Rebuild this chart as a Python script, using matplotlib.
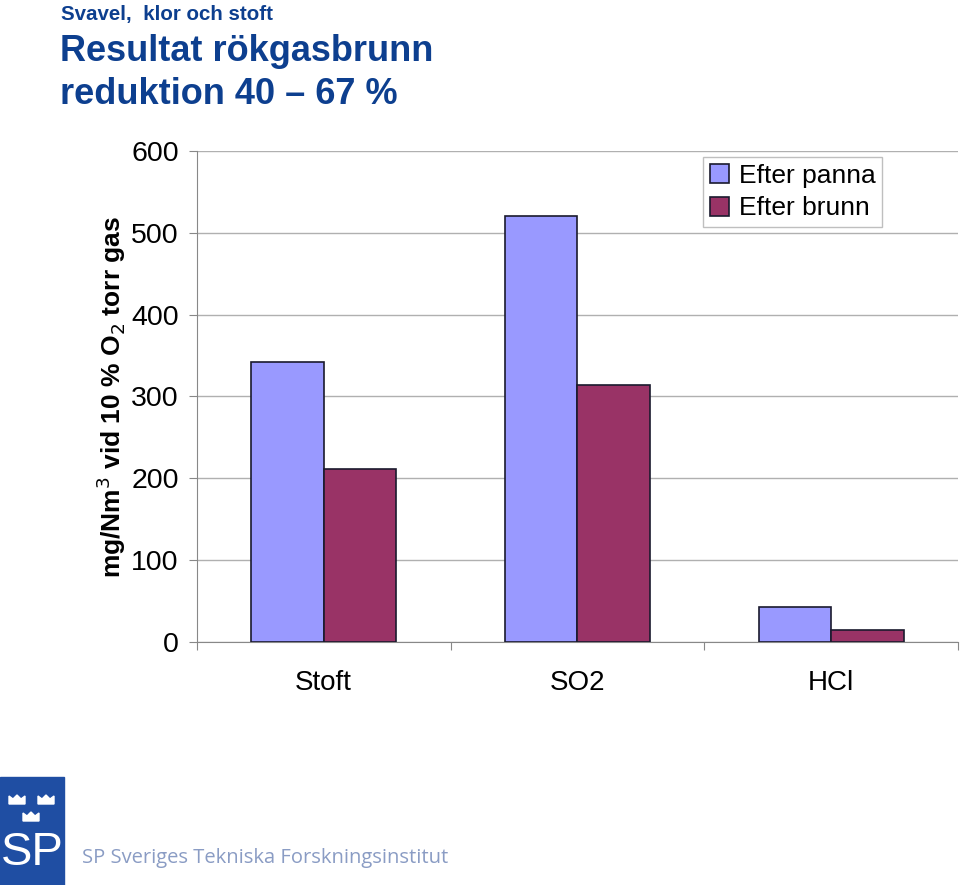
import numpy as np
import matplotlib.pyplot as plt
from matplotlib.patches import Rectangle, Polygon

plt.rcParams['font.family'] = ['Liberation Sans', 'DejaVu Sans']

# Data
categories = ["Stoft", "SO2", "HCl"]
efter_panna = [342, 520, 43]
efter_brunn = [211, 314, 15]
series_names = ["Efter panna", "Efter brunn"]
yticks = [0, 100, 200, 300, 400, 500, 600]

fig = plt.figure(figsize=(9.6, 8.85), dpi=100)
ax = fig.add_axes([0.205, 0.2746, 0.793, 0.5548])

x = np.arange(len(categories))
w = 0.285
ax.bar(x - w / 2, efter_panna, w, color="#9999FF", edgecolor="#1a1a2e",
       linewidth=1.2, label=series_names[0], zorder=3)
ax.bar(x + w / 2, efter_brunn, w, color="#993366", edgecolor="#1a1a2e",
       linewidth=1.2, label=series_names[1], zorder=3)

ax.set_xlim(-0.5, 2.5)
ax.set_ylim(0, 600)
ax.set_yticks(yticks)
ax.set_yticklabels([str(v) for v in yticks], fontsize=20.5)
ax.set_xticks([-0.5, 0.5, 1.5, 2.5], minor=False)
ax.set_xticklabels([])
ax.set_xticks(x, minor=True)
ax.set_xticklabels(categories, minor=True, fontsize=20)
ax.tick_params(axis='x', which='minor', length=0, pad=20)
ax.tick_params(axis='x', which='major', length=6, direction='out', color='#888888')
ax.tick_params(axis='y', length=6, color='#888888', pad=7)
ax.grid(axis='y', color='#b0b0b0', linewidth=1, zorder=0)
for s in ['top', 'right']:
    ax.spines[s].set_visible(False)
ax.spines['left'].set_color('#888888')
ax.spines['bottom'].set_color('#888888')
ax.set_ylabel("mg/Nm$^3$ vid 10 % O$_2$ torr gas", fontsize=19, fontweight='bold')
ax.yaxis.set_label_coords(-0.09, 0.5)

leg = ax.legend(loc='upper right', bbox_to_anchor=(0.9, 0.987), fontsize=19,
                frameon=True, fancybox=False, edgecolor='#b0b0b0',
                handlelength=0.75, handleheight=0.75, handletextpad=0.35,
                borderpad=0.25, labelspacing=0.32, borderaxespad=0)
leg.get_frame().set_linewidth(1)

# Titles
blue = "#0d3f8f"
fig.text(0.064, 0.984, "Svavel,  klor och stoft", fontsize=14.8, fontweight='bold',
         color=blue, va='center', ha='left')
fig.text(0.063, 0.942, "Resultat rökgasbrunn", fontsize=26, fontweight='bold',
         color=blue, va='center', ha='left')
fig.text(0.063, 0.893, "reduktion 40 – 67 %", fontsize=26, fontweight='bold',
         color=blue, va='center', ha='left')

# Logo
fig.patches.append(Rectangle((0, 0), 64 / 960, 108 / 885, transform=fig.transFigure,
                             color="#1f4ea3", zorder=5))
fig.text(32 / 960, 32 / 885, "SP", fontsize=34, color='white', ha='center',
         va='center', zorder=6)
for cx, cy in [(17, 800), (46, 800), (31, 817)]:
    px = [cx - 8, cx - 8, cx - 4, cx, cx + 4, cx + 8, cx + 8]
    py = [cy + 4, cy - 4, cy - 1, cy - 5, cy - 1, cy - 4, cy + 4]
    fig.patches.append(Polygon(np.column_stack([np.array(px) / 960, (885 - np.array(py)) / 885]),
                               closed=True, transform=fig.transFigure,
                               color='white', zorder=6))
fig.text(82 / 960, 27 / 885, "SP Sveriges Tekniska Forskningsinstitut", fontsize=14.5,
         color="#8a9cc4", ha='left', va='center', family='Open Sans')

fig.savefig('out.png', dpi=100)
